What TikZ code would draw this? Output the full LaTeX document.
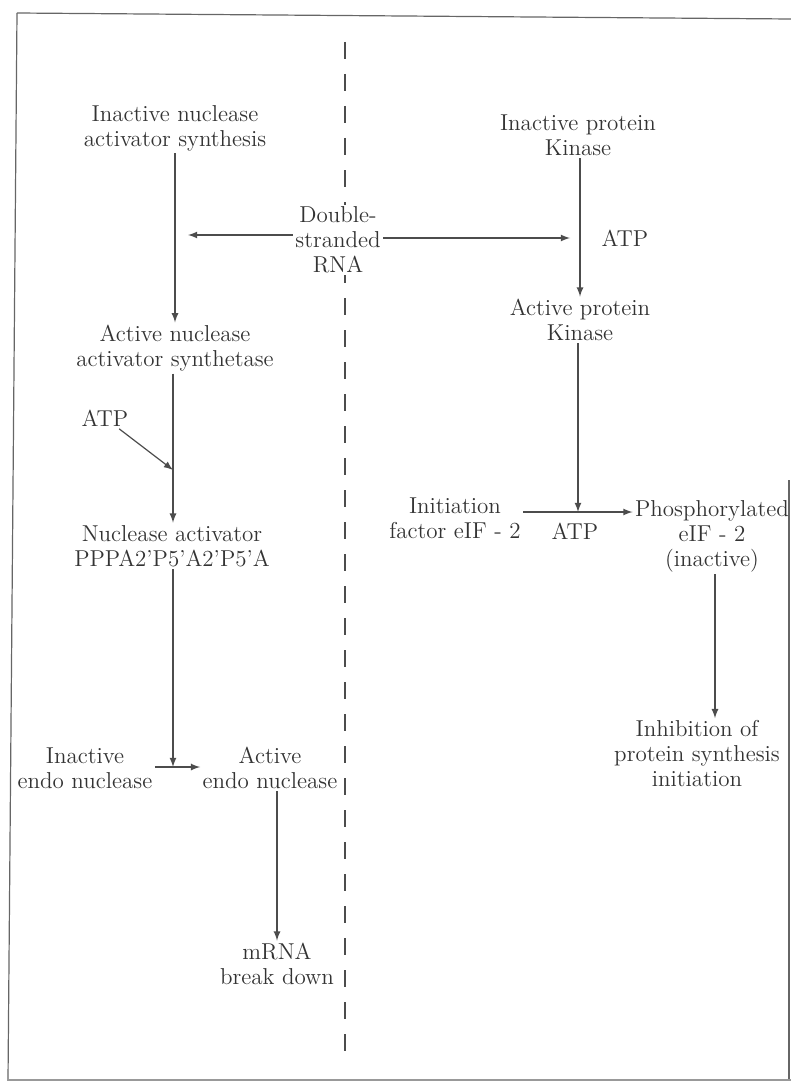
\documentclass[tikz,border=0pt]{standalone}
\usepackage{tikz}
\usetikzlibrary{arrows}
\tikzset{>=latex}
\tikzset{
	lbl/.style={align=center, inner sep=1pt, text=black!80,
			font=\fontsize{11.5}{12.5}\selectfont}
}

\begin{document}
\begin{tikzpicture}[x=0.5pt, y=-0.5pt, line width=0.6pt, draw=black!70]

	\useasboundingbox (0,0) rectangle (791,1081);

	% page frame of the scan
	\draw[black!60] (17,13) -- (791,19);
	\draw[black!60] (17,13) -- (8,1081);
	\draw[black!60] (789,480) -- (789,1081);
	\draw[black!40] (8,1080) -- (791,1080);

	% separating line
	\draw[dash pattern=on 8.5pt off 7.5pt] (345,42) -- (345,1060);

	% left branch
	\node[lbl] (ina) at (175,128) {Inactive nuclease\\activator synthesis};
	\node[lbl, fill=white] (ds) at (338,240) {Double-\\stranded\\RNA};
	\node[lbl] (act) at (175,348) {Active nuclease\\activator synthetase};
	\node[lbl] (atp1) at (105,418) {ATP};
	\node[lbl] (nuc) at (172,546) {Nuclease activator\\PPPA2'P5'A2'P5'A};
	\node[lbl] (ine) at (85,768) {Inactive\\endo nuclease};
	\node[lbl] (ace) at (270,768) {Active\\endo nuclease};
	\node[lbl] (mrna) at (277,964) {mRNA\\break down};

	% right branch
	\node[lbl] (ink) at (578,135) {Inactive protein\\Kinase};
	\node[lbl] (atp2) at (625,238) {ATP};
	\node[lbl] (ack) at (580,320) {Active protein\\Kinase};
	\node[lbl] (ini) at (455,518) {Initiation\\factor eIF - 2};
	\node[lbl] (atp3) at (575,531) {ATP};
	\node[lbl] (pho) at (712,536) {Phosphorylated\\eIF - 2\\(inactive)};
	\node[lbl] (inh) at (697,754) {Inhibition of\\protein synthesis\\initiation};

	\coordinate (c1) at (188,235);
	\coordinate (c2) at (570,238);
	\coordinate (c3) at (173,470);
	\coordinate (c4) at (578,512);
	\coordinate (c5) at (173,767);

	\draw[->] (ds.west |- c1) -- (c1);
	\draw[->] (ds.east |- c2) -- (c2);
	\draw[->] (ina) -- (act);
	\draw[->] (act.south -| c3) -- (nuc.north -| c3);
	\draw[->] (atp1) -- (c3);
	\draw[->] (nuc.south -| c5) -- (c5);
	\draw[->] (ine.east |- c5) -- (ace.west |- c5);
	\draw[->] (ace.south -| 277,0) -- (mrna);

	\draw[->] (ink.south -| 580,0) -- (ack.north -| 580,0);
	\draw[->] (ack.south -| c4) -- (c4);
	\draw[->] (ini.east |- c4) -- (pho.west |- c4);
	\draw[->] (pho.south -| 715,0) -- (inh.north -| 715,0);
\end{tikzpicture}
\end{document}
